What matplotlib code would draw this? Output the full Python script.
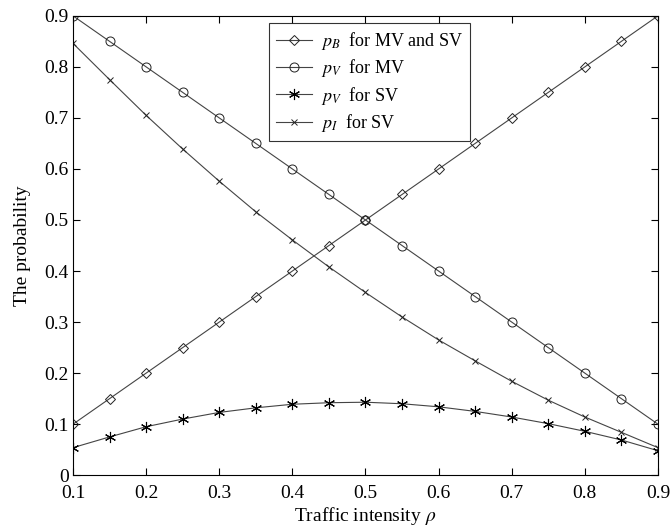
import matplotlib
matplotlib.use('Agg')
import matplotlib.pyplot as plt

plt.rcParams['font.family'] = ['Liberation Serif', 'DejaVu Serif']
plt.rcParams['mathtext.fontset'] = 'stix'

# traffic intensity
rho = [0.1, 0.15, 0.2, 0.25, 0.3, 0.35, 0.4, 0.45, 0.5, 0.55, 0.6, 0.65, 0.7, 0.75, 0.8, 0.85, 0.9]

pb_mv_sv = [0.1, 0.15, 0.2, 0.25, 0.3, 0.35, 0.4, 0.45, 0.5, 0.55, 0.6, 0.65, 0.7, 0.75, 0.8, 0.85, 0.9]
pv_mv = [0.9, 0.85, 0.8, 0.75, 0.7, 0.65, 0.6, 0.55, 0.5, 0.45, 0.4, 0.35, 0.3, 0.25, 0.2, 0.15, 0.1]
pv_sv = [0.054, 0.075, 0.095, 0.110, 0.123, 0.132, 0.139, 0.142, 0.143, 0.140, 0.134, 0.125,
         0.114, 0.101, 0.086, 0.069, 0.048]
pi_sv = [0.846, 0.775, 0.705, 0.639, 0.576, 0.516, 0.461, 0.408, 0.358, 0.310, 0.265, 0.224,
         0.184, 0.147, 0.114, 0.084, 0.054]

fig = plt.figure(figsize=(6.7, 5.28), dpi=100)
ax = fig.add_axes([0.109, 0.100, 0.873, 0.870])

lc = '#444444'
ax.plot(rho, pb_mv_sv, color=lc, lw=0.8, marker='D', ms=5, mfc='none', mec='#222222', mew=0.7,
        label=r'$p_B$  for MV and SV')
ax.plot(rho, pv_mv, color=lc, lw=0.8, marker='o', ms=6.5, mfc='none', mec='#222222', mew=0.7,
        label=r'$p_V$  for MV')
ax.plot(rho, pv_sv, color=lc, lw=0.8, marker=(6, 2, 0), ms=8, mec='black', mew=0.8,
        label=r'$p_V$  for SV')
ax.plot(rho, pi_sv, color=lc, lw=0.8, marker='x', ms=5, mec='#222222', mew=0.7,
        label=r'$p_I$  for SV')

ax.set_xlim(0.1, 0.9)
ax.set_ylim(0, 0.9)
ax.set_xticks([0.1, 0.2, 0.3, 0.4, 0.5, 0.6, 0.7, 0.8, 0.9])
ax.set_yticks([0, 0.1, 0.2, 0.3, 0.4, 0.5, 0.6, 0.7, 0.8, 0.9])
ax.set_xticklabels(['0.1', '0.2', '0.3', '0.4', '0.5', '0.6', '0.7', '0.8', '0.9'])
ax.set_yticklabels(['0', '0.1', '0.2', '0.3', '0.4', '0.5', '0.6', '0.7', '0.8', '0.9'])
ax.tick_params(direction='in', top=True, right=True, labelsize=14, length=5, width=0.8)
ax.tick_params(axis='x', pad=7)
ax.tick_params(axis='y', pad=3)
for s in ax.spines.values():
    s.set_linewidth(0.8)

ax.set_xlabel(r'Traffic intensity $\rho$', fontsize=14, labelpad=2)
ax.set_ylabel('The probability', fontsize=14, labelpad=10)

leg = ax.legend(loc='upper center', bbox_to_anchor=(0.507, 0.985), fontsize=13, frameon=True,
                fancybox=False, edgecolor='black', handlelength=2.0, borderpad=0.4,
                labelspacing=0.3, handletextpad=0.5, borderaxespad=0)
leg.get_frame().set_linewidth(0.8)

fig.savefig('out.png', dpi=100)
